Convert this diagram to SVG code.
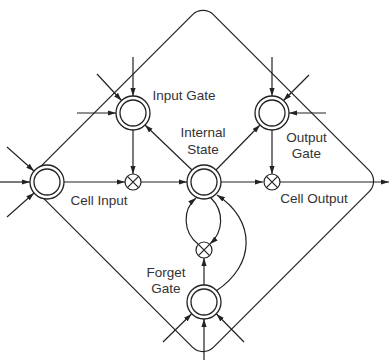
<svg xmlns="http://www.w3.org/2000/svg" width="389" height="360" viewBox="0 0 389 360">
  <style>
    .ring { fill: #fff; stroke: #222; stroke-width: 1.3; }
    .mul { fill: #fff; stroke: #222; stroke-width: 1.2; }
    .line { fill: none; stroke: #222; stroke-width: 1.2; }
    .edge { fill: none; stroke: #222; stroke-width: 1.2; marker-end: url(#arrow); }
    .label { font-family: "Liberation Sans", Arial, sans-serif; font-size: 13.5px; fill: #333; text-anchor: middle; }
  </style>
  <defs>
    <marker id="arrow" markerUnits="userSpaceOnUse" markerWidth="9" markerHeight="6" refX="8" refY="2.6" orient="auto">
      <path d="M0,0 L8,2.6 L0,5.2 z" fill="#222"/>
    </marker>
    <g id="unit">
      <circle class="ring" r="17"/>
      <circle class="ring" r="13"/>
    </g>
    <g id="times">
      <circle class="mul" r="8"/>
      <path class="line" d="M-5.6,-5.6 L5.6,5.6 M-5.6,5.6 L5.6,-5.6"/>
    </g>
  </defs>

  <!-- cell boundary -->
  <rect class="line" x="78" y="56" width="250" height="250" rx="15" transform="rotate(45 203 181)"/>

  <g id="connectors">
    <!-- cell input -->
    <line class="edge" x1="0" y1="182" x2="30" y2="182"/>
    <line class="edge" x1="7" y1="147" x2="34" y2="171"/>
    <line class="edge" x1="7" y1="217" x2="34" y2="193"/>
    <line class="edge" x1="64" y1="182" x2="125" y2="182"/>
    <line class="edge" x1="141" y1="182" x2="187" y2="182"/>
    <!-- input gate -->
    <line class="edge" x1="133" y1="57" x2="133" y2="96"/>
    <line class="edge" x1="97" y1="74" x2="121.5" y2="100.5"/>
    <line class="edge" x1="77" y1="113" x2="116" y2="113"/>
    <line class="edge" x1="133" y1="130" x2="133" y2="174"/>
    <line class="edge" x1="192" y1="170" x2="145" y2="125"/>
    <!-- output gate -->
    <line class="edge" x1="216" y1="170" x2="260" y2="125"/>
    <line class="edge" x1="272" y1="57" x2="272" y2="96"/>
    <line class="edge" x1="309" y1="75" x2="283.5" y2="100.5"/>
    <line class="edge" x1="326" y1="113" x2="289" y2="113"/>
    <line class="edge" x1="272" y1="130" x2="272" y2="174"/>
    <line class="edge" x1="221" y1="182" x2="263" y2="182"/>
    <line class="edge" x1="280" y1="182" x2="389" y2="182"/>
    <!-- forget gate -->
    <line class="edge" x1="204" y1="360" x2="204" y2="319"/>
    <line class="edge" x1="163" y1="342" x2="191.5" y2="314"/>
    <line class="edge" x1="244" y1="342" x2="216.5" y2="314"/>
    <line class="edge" x1="204" y1="285" x2="204" y2="258"/>
    <!-- recurrent state loops -->
    <path class="edge" d="M198,244 C183,232 182,210 196,198"/>
    <path class="edge" d="M211,198 C225,212 223,232 210,244"/>
    <path class="edge" d="M216,291 C256,265 256,220 217,195"/>
  </g>

  <g id="cell-input"><use href="#unit" x="47" y="182"/></g>
  <g id="input-gate"><use href="#unit" x="133" y="113"/></g>
  <g id="internal-state"><use href="#unit" x="204" y="182"/></g>
  <g id="output-gate"><use href="#unit" x="272" y="113"/></g>
  <g id="forget-gate"><use href="#unit" x="204" y="302"/></g>
  <g id="mul-input"><use href="#times" x="133" y="182"/></g>
  <g id="mul-output"><use href="#times" x="272" y="182"/></g>
  <g id="mul-forget"><use href="#times" x="204" y="250"/></g>

  <g id="labels">
    <text class="label" x="184" y="100">Input Gate</text>
    <text class="label" x="203" y="137">Internal</text>
    <text class="label" x="203" y="154">State</text>
    <text class="label" x="306.5" y="142">Output</text>
    <text class="label" x="306.5" y="158">Gate</text>
    <text class="label" x="99" y="205">Cell Input</text>
    <text class="label" x="314" y="203">Cell Output</text>
    <text class="label" x="166" y="277">Forget</text>
    <text class="label" x="166" y="293">Gate</text>
  </g>
</svg>
